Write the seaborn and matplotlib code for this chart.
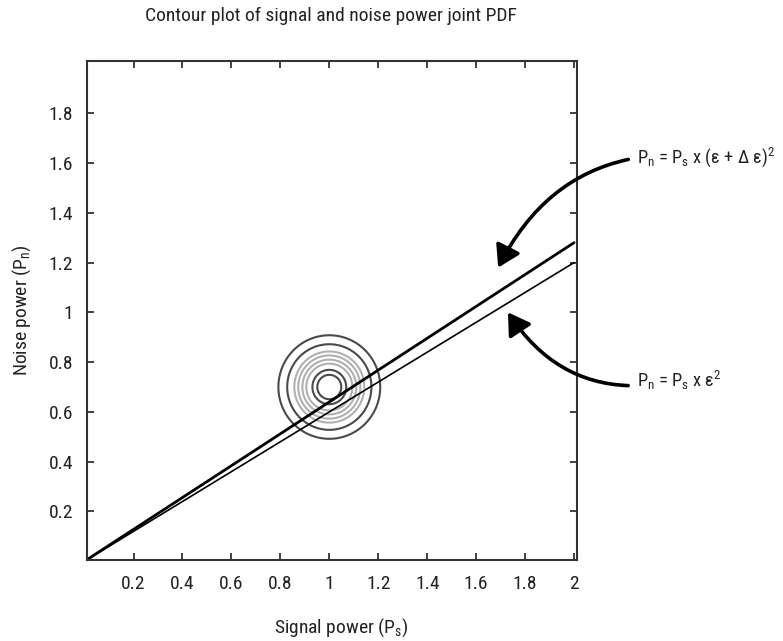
import numpy as np
import matplotlib
matplotlib.use("Agg")
import matplotlib.pyplot as plt
from matplotlib import font_manager
from matplotlib.ticker import FuncFormatter
import seaborn as sns

# ---------------- data ----------------
x_ticks = [0.2, 0.4, 0.6, 0.8, 1.0, 1.2, 1.4, 1.6, 1.8, 2.0]
y_ticks = [0.2, 0.4, 0.6, 0.8, 1.0, 1.2, 1.4, 1.6, 1.8]

signal_power = [0.0, 2.0]
noise_eps = [0.0, 1.20]          # Pn = Ps x eps^2
noise_eps_delta = [0.0, 1.28]    # Pn = Ps x (eps + d eps)^2

pdf_center = (1.0, 0.70)
pdf_sigma = 0.10
contour_levels = [0.115, 0.228, 0.360, 0.447, 0.546, 0.643, 0.788, 0.887]
contour_colors = ["#4a4a4a", "#4a4a4a", "#b0b0b0", "#b0b0b0",
                  "#b0b0b0", "#b0b0b0", "#4a4a4a", "#4a4a4a"]

title = "Contour plot of signal and noise power joint PDF"
label_upper = r"P$_\mathregular{n}$ = P$_\mathregular{s}$ x (ε + Δ ε)$^\mathregular{2}$"
label_lower = r"P$_\mathregular{n}$ = P$_\mathregular{s}$ x ε$^\mathregular{2}$"
arrow_tip_upper = (1.69, 1.18)
arrow_tip_lower = (1.73, 1.00)

# ---------------- style ----------------
sns.set_theme(style="ticks")


def pick_font():
    fl = font_manager.fontManager.ttflist
    names = {f.name for f in fl}
    for n in ["Liberation Sans Narrow", "Roboto Condensed", "Open Sans Condensed",
              "Noto Sans Condensed", "DejaVu Sans Condensed", "Arial Narrow"]:
        if n in names:
            return n, "normal"
    cond = ("condensed", "semi-condensed", "extra-condensed")
    for pref in ["Roboto", "Noto Sans", "Open Sans", "DejaVu Sans", "Liberation Sans"]:
        for f in fl:
            st = f.stretch
            is_cond = (st in cond) or (isinstance(st, (int, float)) and st < 100)
            if f.name == pref and is_cond and f.style == "normal" and f.weight in (400, "normal", "regular"):
                return pref, st
    return "Liberation Sans", "normal"


family, stretch = pick_font()
plt.rcParams["font.family"] = [family, "DejaVu Sans"]
plt.rcParams["font.stretch"] = stretch
plt.rcParams["mathtext.fontset"] = "custom"
plt.rcParams["mathtext.rm"] = family
plt.rcParams["mathtext.it"] = family

FS = 14
W, H = 783, 641
fig = plt.figure(figsize=(W / 100, H / 100), dpi=100)
ax = fig.add_axes([87 / W, 1 - 560 / H, 490 / W, 499 / H])

# joint PDF contours
gx = np.linspace(0.5, 1.5, 400)
gy = np.linspace(0.2, 1.2, 400)
GX, GY = np.meshgrid(gx, gy)
Z = np.exp(-((GX - pdf_center[0]) ** 2 + (GY - pdf_center[1]) ** 2) / (2 * pdf_sigma ** 2))
ax.contour(GX, GY, Z, levels=contour_levels, colors=contour_colors, linewidths=1.5)

# lines
sns.lineplot(x=signal_power, y=noise_eps_delta, ax=ax, color="black", lw=2.0)
sns.lineplot(x=signal_power, y=noise_eps, ax=ax, color="black", lw=1.2)

ax.set_xlim(0.01, 2.012)
ax.set_ylim(0.005, 2.01)
ax.set_xticks(x_ticks)
ax.set_yticks(y_ticks)
fmt = FuncFormatter(lambda v, p: f"{v:g}")
ax.xaxis.set_major_formatter(fmt)
ax.yaxis.set_major_formatter(fmt)
ax.tick_params(direction="in", length=5, width=1.3, color="#333333",
               top=True, right=True, labelsize=FS, labelcolor="#222222")
ax.tick_params(axis="x", pad=11)
ax.tick_params(axis="y", pad=10)
for s in ax.spines.values():
    s.set_color("#333333")
    s.set_linewidth(1.5)
ax.set_xlabel("")
ax.set_ylabel("")

fig.text(331 / W, 1 - 16 / H, title, ha="center", va="center", fontsize=FS, color="#222222")
fig.text(341 / W, 1 - 628 / H, r"Signal power (P$_\mathregular{s}$)", ha="center",
         va="center", fontsize=FS, color="#222222")
fig.text(22 / W, 1 - 310 / H, r"Noise power (P$_\mathregular{n}$)", ha="center",
         va="center", rotation=90, fontsize=FS, color="#222222")

arrow_kw = dict(arrowstyle="-|>,head_length=0.65,head_width=0.4",
                color="black", lw=2.6, mutation_scale=20, shrinkA=4, shrinkB=0)
ax.annotate(label_upper, xy=arrow_tip_upper, xycoords="data",
            xytext=(637 / W, 1 - 157 / H), textcoords="figure fraction",
            ha="left", va="center", fontsize=13.3, color="#222222",
            arrowprops=dict(connectionstyle="arc3,rad=0.35", **arrow_kw),
            annotation_clip=False)
ax.annotate(label_lower, xy=arrow_tip_lower, xycoords="data",
            xytext=(637 / W, 1 - 380 / H), textcoords="figure fraction",
            ha="left", va="center", fontsize=13.3, color="#222222",
            arrowprops=dict(connectionstyle="arc3,rad=-0.35", **arrow_kw),
            annotation_clip=False)

fig.savefig("out.png", dpi=100)
